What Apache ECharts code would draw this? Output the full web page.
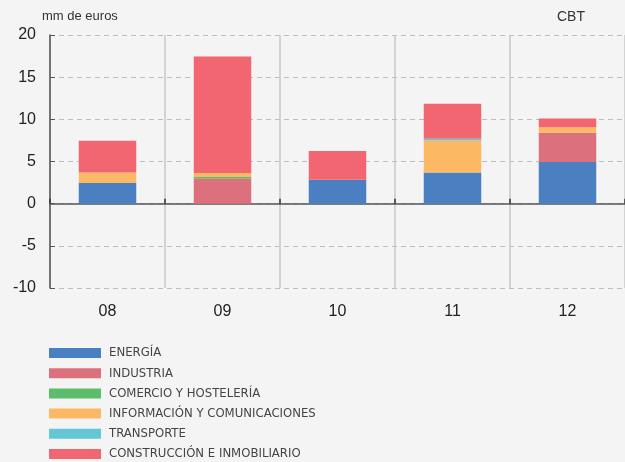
<!DOCTYPE html>
<html>
<head>
<meta charset="utf-8">
<script src="https://cdn.jsdelivr.net/npm/echarts@6/dist/echarts.min.js"></script>
<style>
  html, body { margin: 0; padding: 0; background: #f3f4f3; }
  #chart { width: 625px; height: 462px; }
</style>
</head>
<body>
<div id="chart"></div>
<script>
const years = ["08", "09", "10", "11", "12"];
const energia = [2.45, 0, 2.85, 3.7, 4.95];
const industria = [0, 2.95, 0, 0, 3.45];
const comercio = [0, 0.2, 0, 0, 0];
const informacion = [1.25, 0.5, 0, 3.8, 0.65];
const transporte = [0, 0, 0, 0.2, 0];
const construccion = [3.75, 13.8, 3.4, 4.15, 1.05];
const yTicks = [-10, -5, 0, 5, 10, 15, 20];

const names = [
  "ENERGÍA",
  "INDUSTRIA",
  "COMERCIO Y HOSTELERÍA",
  "INFORMACIÓN Y COMUNICACIONES",
  "TRANSPORTE",
  "CONSTRUCCIÓN E INMOBILIARIO",
];
const values = [energia, industria, comercio, informacion, transporte, construccion];
const colors = ["#4a7fc1", "#dc707c", "#5cbd6a", "#fdb863", "#65c7d4", "#f26672"];

const chart = echarts.init(document.getElementById("chart"));
const font = "'Liberation Sans', Arial, sans-serif";

chart.setOption({
  animation: false,
  backgroundColor: "#f3f4f3",
  textStyle: { fontFamily: font },
  graphic: [
    { type: "text", left: 42, top: 10, style: { text: "mm de euros", font: "13px " + font, fill: "#333" } },
    { type: "text", left: 557, top: 10, style: { text: "CBT", font: "14px " + font, fill: "#333" } },
  ],
  legend: {
    orient: "vertical",
    left: 49,
    top: 346,
    padding: 0,
    height: 117,
    itemWidth: 52,
    itemHeight: 10,
    itemGap: 6.2,
    icon: "rect",
    data: names,
    textStyle: {
      fontFamily: "'DejaVu Sans Condensed', sans-serif",
      fontSize: 13,
      lineHeight: 14,
      color: "#444",
      padding: [0, 0, 0, 3],
    },
  },
  grid: { left: 50, top: 35, width: 577, height: 253, containLabel: false },
  xAxis: {
    type: "category",
    data: years,
    axisLine: { onZero: true, lineStyle: { color: "#555", width: 1.5 } },
    axisTick: { show: true, inside: true, length: 5, lineStyle: { color: "#333", width: 1.5 } },
    axisLabel: { color: "#222", fontSize: 16, margin: 16 },
    splitLine: { show: true, lineStyle: { color: "#c8c8c8", width: 1.5 } },
    position: "bottom",
  },
  yAxis: {
    type: "value",
    min: yTicks[0],
    max: yTicks[yTicks.length - 1],
    interval: 5,
    axisLine: { show: true, onZero: false, lineStyle: { color: "#555", width: 1.5 } },
    axisTick: { show: true, inside: true, length: 5, lineStyle: { color: "#555" } },
    axisLabel: { color: "#222", fontSize: 16, margin: 14 },
    splitLine: { show: true, lineStyle: { color: "#bdbdbd", type: [5, 4], width: 1 } },
  },
  series: names.map((name, i) => ({
    name,
    type: "bar",
    stack: "total",
    data: values[i],
    barWidth: "50%",
    itemStyle: { color: colors[i] },
  })),
});
</script>
</body>
</html>
